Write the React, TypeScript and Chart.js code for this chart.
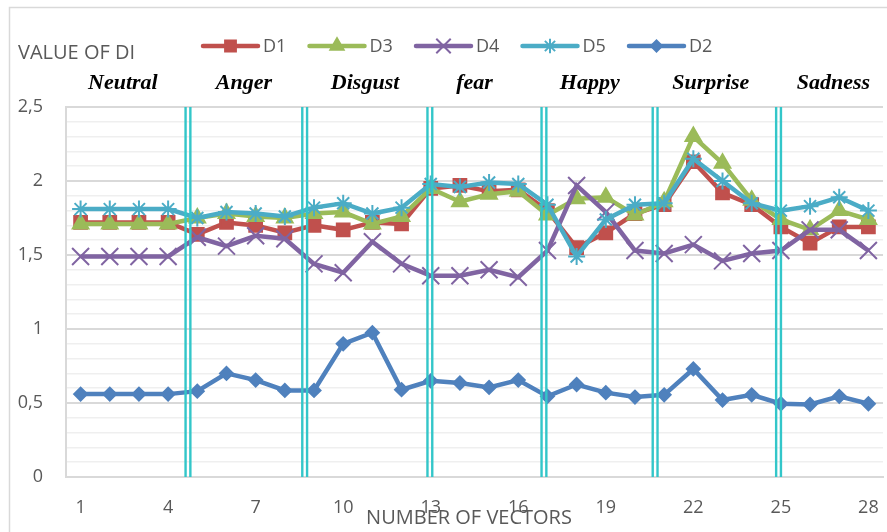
import React, { useEffect, useRef } from 'react';
import { Chart, registerables } from 'chart.js';
import { drawPoint } from 'chart.js/helpers';

Chart.register(...registerables);

// ---- data ----
const categories = ['1', '2', '3', '4', '5', '6', '7', '8', '9', '10', '11', '12', '13', '14',
  '15', '16', '17', '18', '19', '20', '21', '22', '23', '24', '25', '26', '27', '28'];

const D1 = [1.72, 1.72, 1.72, 1.72, 1.64, 1.72, 1.70, 1.65, 1.70, 1.67, 1.72, 1.71, 1.95, 1.97,
  1.93, 1.94, 1.80, 1.55, 1.65, 1.78, 1.84, 2.13, 1.92, 1.84, 1.69, 1.58, 1.69, 1.69];
const D3 = [1.71, 1.71, 1.71, 1.71, 1.75, 1.78, 1.76, 1.75, 1.78, 1.79, 1.71, 1.76, 1.95, 1.86,
  1.91, 1.93, 1.77, 1.88, 1.89, 1.77, 1.86, 2.30, 2.12, 1.87, 1.74, 1.67, 1.80, 1.74];
const D4 = [1.49, 1.49, 1.49, 1.49, 1.62, 1.56, 1.63, 1.61, 1.44, 1.38, 1.59, 1.44, 1.36, 1.36,
  1.40, 1.35, 1.53, 1.97, 1.79, 1.53, 1.51, 1.57, 1.46, 1.51, 1.53, 1.67, 1.67, 1.53];
const D5 = [1.81, 1.81, 1.81, 1.81, 1.75, 1.79, 1.78, 1.76, 1.82, 1.85, 1.78, 1.82, 1.98, 1.96,
  1.99, 1.98, 1.84, 1.49, 1.74, 1.84, 1.85, 2.15, 2.00, 1.85, 1.80, 1.83, 1.89, 1.80];
const D2 = [0.56, 0.56, 0.56, 0.56, 0.58, 0.70, 0.655, 0.585, 0.585, 0.90, 0.975, 0.59, 0.65, 0.635,
  0.605, 0.655, 0.545, 0.625, 0.57, 0.54, 0.555, 0.73, 0.52, 0.555, 0.495, 0.49, 0.545, 0.495];

const emotionLabels = ['Neutral', 'Anger', 'Disgust', 'fear', 'Happy', 'Surprise', 'Sadness'];
// label centres, in category units (1-based)
const emotionCenters = [2.45, 6.6, 10.75, 14.5, 18.45, 22.6, 26.8];
// double separator line centres, in category units (1-based)
const separatorPositions = [4.68, 8.68, 12.97, 16.88, 20.69, 24.92];

const yMajorTicks = [0, 0.5, 1, 1.5, 2, 2.5];
const xTickEvery = 3;
const yTitle = 'VALUE OF DI';
const xTitle = 'NUMBER OF VECTORS';

const TEXT = '#595959';
const FONT = "'Open Sans', 'DejaVu Sans', sans-serif";

const isMajor = (v: number) => yMajorTicks.some((m) => Math.abs(m - v) < 1e-6);

const decorPlugin = {
  id: 'decor',
  beforeDraw(chart: any) {
    const ctx = chart.ctx;
    ctx.save();
    ctx.strokeStyle = '#d9d9d9';
    ctx.lineWidth = 1.5;
    ctx.strokeRect(9.5, 7.5, chart.width + 40, chart.height + 40);
    ctx.restore();
  },
  afterDatasetsDraw(chart: any) {
    const { ctx, chartArea } = chart;
    const x = chart.scales.x;
    ctx.save();
    ctx.strokeStyle = '#33c6c9';
    ctx.lineWidth = 2.4;
    separatorPositions.forEach((p) => {
      const px = x.getPixelForValue(p - 1);
      [-2.4, 2.4].forEach((d) => {
        ctx.beginPath();
        ctx.moveTo(px + d, chartArea.top);
        ctx.lineTo(px + d, chartArea.bottom);
        ctx.stroke();
      });
    });
    ctx.restore();
  },
  afterDraw(chart: any) {
    const { ctx } = chart;
    const x = chart.scales.x;
    ctx.save();
    // legend
    const legendStart = 203;
    const legendStep = 106.5;
    const legendY = 46;
    chart.data.datasets.forEach((ds: any, i: number) => {
      const x0 = legendStart + i * legendStep;
      ctx.strokeStyle = ds.borderColor;
      ctx.lineWidth = 4.5;
      ctx.lineCap = 'round';
      ctx.beginPath();
      ctx.moveTo(x0, legendY);
      ctx.lineTo(x0 + 55, legendY);
      ctx.stroke();
      ctx.lineCap = 'butt';
      ctx.fillStyle = ds.pointBackgroundColor;
      ctx.strokeStyle = ds.pointBorderColor;
      ctx.lineWidth = 2;
      drawPoint(ctx, { pointStyle: ds.pointStyle, radius: ds.pointRadius * 0.85, rotation: 0, borderWidth: 2 }, x0 + 27.5, legendY);
      ctx.fillStyle = TEXT;
      ctx.font = `18px ${FONT}`;
      ctx.textAlign = 'left';
      ctx.textBaseline = 'middle';
      ctx.fillText(ds.label, x0 + 60, legendY + 1);
    });
    // axis titles
    ctx.fillStyle = TEXT;
    ctx.font = `20px ${FONT}`;
    ctx.textAlign = 'left';
    ctx.textBaseline = 'middle';
    ctx.fillText(yTitle, 18, 53);
    ctx.textAlign = 'center';
    ctx.fillText(xTitle, 469, 518);
    // emotion labels
    ctx.fillStyle = '#000';
    ctx.font = "italic bold 22px 'Liberation Serif', 'DejaVu Serif', serif";
    ctx.textAlign = 'center';
    emotionLabels.forEach((t, i) => {
      ctx.fillText(t, x.getPixelForValue(emotionCenters[i] - 1), 83);
    });
    ctx.restore();
  },
};

export default function App() {
  const ref = useRef<HTMLCanvasElement>(null);
  useEffect(() => {
    if (!ref.current) return;
    const mk = (label: string, data: number[], color: string, pointStyle: string, radius: number, order: number) => ({
      label,
      data,
      borderColor: color,
      backgroundColor: color,
      pointBackgroundColor: color,
      pointBorderColor: color,
      pointStyle,
      pointRadius: radius,
      pointBorderWidth: 2,
      borderWidth: 4.5,
      tension: 0,
      order,
    });
    const chart = new Chart(ref.current, {
      type: 'line',
      data: {
        labels: categories,
        datasets: [
          mk('D1', D1, '#c0504d', 'rect', 9, 5),
          mk('D3', D3, '#9bbb59', 'triangle', 9, 4),
          mk('D4', D4, '#8064a2', 'crossRot', 12, 3),
          mk('D5', D5, '#4bacc6', 'star', 8.5, 2),
          mk('D2', D2, '#4f81bd', 'rectRot', 6.5, 1),
        ],
      },
      options: {
        responsive: false,
        animation: false,
        devicePixelRatio: 1,
        layout: { autoPadding: false, padding: { top: 107, right: 4, bottom: 15, left: 10 } },
        plugins: { legend: { display: false }, tooltip: { enabled: false }, title: { display: false } },
        scales: {
          x: {
            type: 'category',
            offset: true,
            grid: { display: false, drawTicks: true, tickLength: 20 },
            border: { display: true, color: '#d9d9d9', width: 2 },
            ticks: {
              autoSkip: false,
              maxRotation: 0,
              padding: 0,
              color: TEXT,
              font: { family: FONT, size: 18 },
              callback: (_v: any, i: number) => (i % xTickEvery === 0 ? categories[i] : ''),
            },
            afterFit: (s: any) => { s.height = 40; },
          },
          y: {
            min: 0,
            max: 2.5,
            grid: {
              drawTicks: false,
              color: (c: any) => (isMajor(c.tick.value) ? '#d9d9d9' : '#efefef'),
              lineWidth: (c: any) => (isMajor(c.tick.value) ? 2 : 1.6),
            },
            border: { display: true, color: '#d9d9d9', width: 2 },
            ticks: {
              stepSize: 0.1,
              autoSkip: false,
              padding: 23,
              color: TEXT,
              font: { family: FONT, size: 18 },
              callback: (v: any) => (isMajor(v) ? String(Math.round(v * 10) / 10).replace('.', ',') : ''),
            },
            afterFit: (s: any) => { s.width = 56; },
          },
        },
      },
      plugins: [decorPlugin],
    } as any);
    return () => chart.destroy();
  }, []);
  return (
    <div style={{ position: 'absolute', left: 0, top: 0, width: 887, height: 532 }}>
      <canvas ref={ref} width={887} height={532} style={{ display: 'block' }} />
    </div>
  );
}
